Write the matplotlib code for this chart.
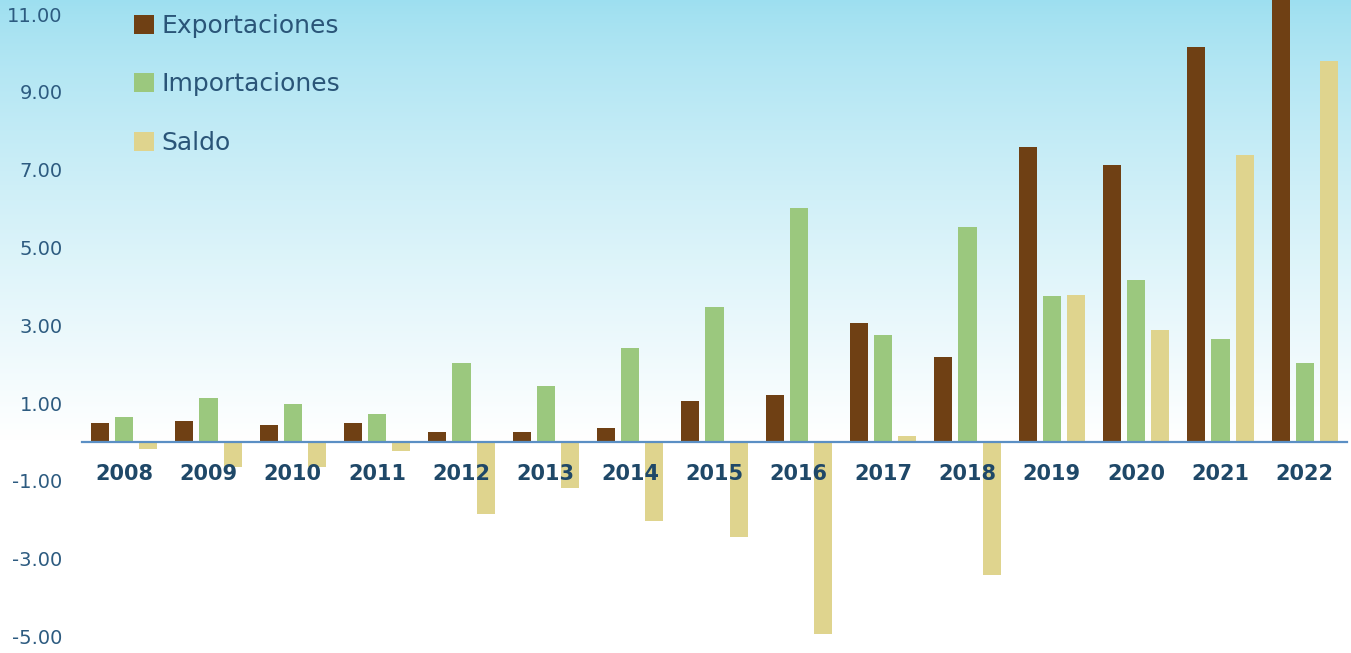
#!/usr/bin/env python3
"""Exportaciones, importaciones y saldo por año."""

import matplotlib

matplotlib.use("Agg")
import matplotlib.pyplot as plt
import numpy as np
from matplotlib.colors import to_rgb
from matplotlib.ticker import FormatStrFormatter

years = ["2008", "2009", "2010", "2011", "2012", "2013", "2014", "2015",
         "2016", "2017", "2018", "2019", "2020", "2021", "2022"]
exportaciones = [0.49, 0.55, 0.45, 0.50, 0.25, 0.25, 0.35, 1.05,
                 1.22, 3.06, 2.19, 7.58, 7.12, 10.15, 11.6]
importaciones = [0.64, 1.14, 0.99, 0.71, 2.02, 1.43, 2.43, 3.47,
                 6.02, 2.75, 5.53, 3.75, 4.16, 2.65, 2.03]
saldo = [-0.19, -0.63, -0.63, -0.24, -1.86, -1.19, -2.04, -2.45,
         -4.93, 0.15, -3.41, 3.78, 2.88, 7.38, 9.79]
y_ticks = [-5, -3, -1, 1, 3, 5, 7, 9, 11]

series = [
    ("Exportaciones", exportaciones, "#6f4014"),
    ("Importaciones", importaciones, "#9bc87e"),
    ("Saldo", saldo, "#dfd48e"),
]

W, H = 1351, 653
fig = plt.figure(figsize=(W / 100, H / 100), dpi=100)

# background: light blue at the top fading to white
bg = fig.add_axes([0, 0, 1, 1], zorder=-1)
bg.set_axis_off()
t = np.clip(np.arange(H) / 440.0, 0, 1)[:, None] ** 0.8
top = np.array(to_rgb("#9ddff0"))
grad = top * (1 - t) + np.ones(3) * t
bg.imshow(grad[:, None, :].repeat(2, axis=1), aspect="auto",
          extent=[0, 1, 0, 1], origin="upper")

ax = fig.add_axes([82 / W, 0, (1347 - 82) / W, 1])
ax.set_facecolor("none")
ax.set_axisbelow(False)

x = np.arange(len(years))
width = 0.214
step = 0.285
for i, (label, values, color) in enumerate(series):
    ax.bar(x + (i - 1) * step, values, width=width, color=color, label=label,
           zorder=2)

ax.set_xlim(-0.5, len(years) - 0.5)
ax.set_ylim(-5.42, 11.36)

for side in ("top", "right", "left"):
    ax.spines[side].set_visible(False)
ax.spines["bottom"].set_position(("data", 0))
ax.spines["bottom"].set_color("#5b8fc4")
ax.spines["bottom"].set_linewidth(1.6)
ax.spines["bottom"].set_zorder(3)

ax.set_xticks(x)
ax.set_xticklabels(years, fontsize=15, fontweight="bold", color="#1f4868")
ax.tick_params(axis="x", length=0, pad=16)

ax.set_yticks(y_ticks)
ax.yaxis.set_major_formatter(FormatStrFormatter("%.2f"))
ax.tick_params(axis="y", length=0, pad=14, labelsize=14, labelcolor="#2d5b80")

fig.legend(
    loc="upper left",
    bbox_to_anchor=(134 / W, 1 - 14 / H),
    frameon=False,
    fontsize=18,
    labelcolor="#2a5578",
    handlelength=0.78,
    handleheight=0.78,
    handletextpad=0.3,
    labelspacing=1.38,
    borderpad=0,
    borderaxespad=0,
)

fig.savefig("out.png", dpi=100)
plt.close(fig)
